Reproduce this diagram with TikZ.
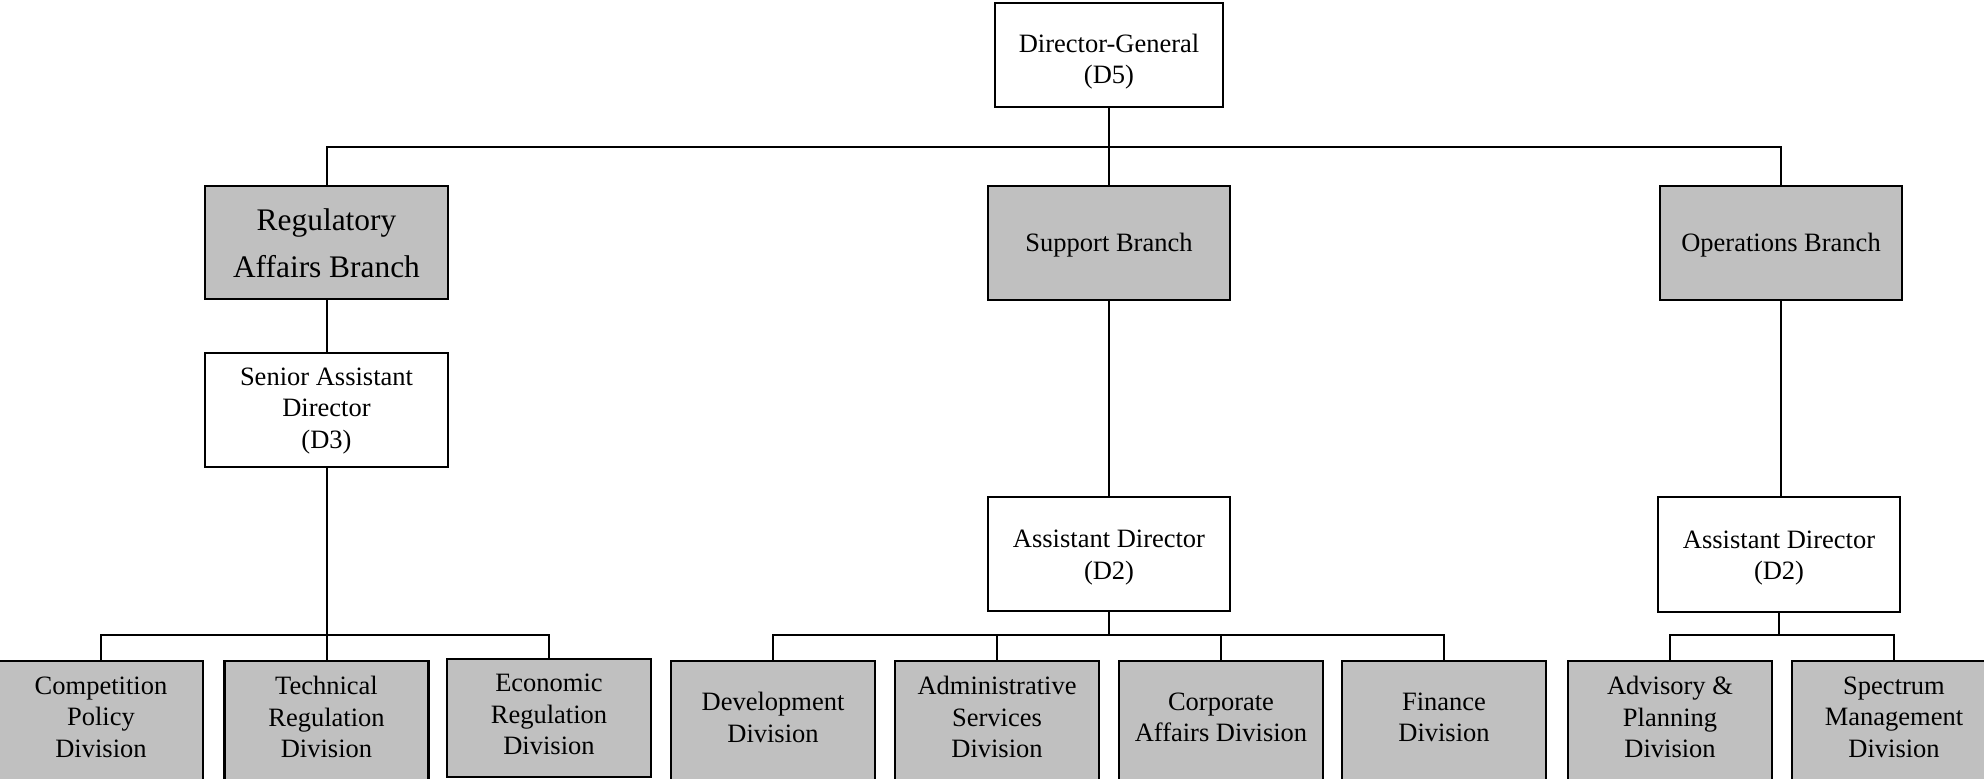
\documentclass[tikz,border=0pt]{standalone}
\usepackage{fontspec}
\setmainfont{Liberation Serif}
\definecolor{boxgray}{RGB}{192,192,192}
\begin{document}
\begin{tikzpicture}[x=0.5pt,y=-0.5pt,
  orgbox/.style={draw=black, line width=1.1pt, rectangle, inner sep=0pt},
  whitebox/.style={orgbox, fill=white},
  graybox/.style={orgbox, fill=boxgray},
  divbox/.style={graybox, minimum width=102pt, minimum height=60pt},
  lbl/.style={inner sep=0pt, align=center, font=\fontsize{13.25}{15.8}\selectfont},
  conn/.style={draw=black, line width=1pt}]
\useasboundingbox (0,0) rectangle (1984,779);
\coordinate (topbus) at (0,147);
\coordinate (lowbus) at (0,635);
% top
\node[whitebox, minimum width=114pt, minimum height=52pt] (dg) at (1109,55) {};
\node[lbl] (dgt) at ([yshift=-3.3pt]dg.center) {Director-General\\(D5)};
% branches
\node[graybox, minimum width=121.5pt, minimum height=56.5pt] (reg) at (326.5,242.5) {};
\node[lbl, font=\fontsize{15.7}{23.4}\selectfont] (regt) at ([yshift=-0.3pt]reg.center) {Regulatory\\Affairs Branch};
\node[graybox, minimum width=121pt, minimum height=57pt] (sup) at (1109,243) {};
\node[lbl] (supt) at ([yshift=-1pt]sup.center) {Support Branch};
\node[graybox, minimum width=121pt, minimum height=57pt] (ops) at (1781,243) {};
\node[lbl] (opst) at ([yshift=-1pt]ops.center) {Operations Branch};
% directors
\node[whitebox, minimum width=121.5pt, minimum height=57pt] (sad) at (326.5,410) {};
\node[lbl] (sadt) at ([yshift=-0.5pt]sad.center) {Senior Assistant\\Director\\(D3)};
\node[whitebox, minimum width=121pt, minimum height=57pt] (ad1) at (1109,554) {};
\node[lbl] (ad1t) at ([yshift=-1.8pt]ad1.center) {Assistant Director\\(D2)};
\node[whitebox, minimum width=121pt, minimum height=57.5pt] (ad2) at (1779,554.5) {};
\node[lbl] (ad2t) at ([yshift=-1.8pt]ad2.center) {Assistant Director\\(D2)};
% divisions
\node[divbox] (comp) at (101,721) {};
\node[lbl] (compt) at ([yshift=2pt]comp.center) {Competition\\Policy\\Division};
\node[divbox] (tech) at (326.5,721) {};
\node[lbl] (techt) at ([yshift=2pt]tech.center) {Technical\\Regulation\\Division};
\node[divbox, minimum height=59pt] (econ) at (549,718) {};
\node[lbl] (econt) at ([yshift=1.8pt]econ.center) {Economic\\Regulation\\Division};
\node[divbox] (dev) at (773,721) {};
\node[lbl] (devt) at ([yshift=1.8pt]dev.center) {Development\\Division};
\node[divbox] (adm) at (997,721) {};
\node[lbl] (admt) at ([yshift=2pt]adm.center) {Administrative\\Services\\Division};
\node[divbox] (corp) at (1221,721) {};
\node[lbl] (corpt) at ([yshift=1.8pt]corp.center) {Corporate\\Affairs Division};
\node[divbox] (fin) at (1444,721) {};
\node[lbl] (fint) at ([yshift=1.8pt]fin.center) {Finance\\Division};
\node[divbox] (adv) at (1670,721) {};
\node[lbl] (advt) at ([yshift=2pt]adv.center) {Advisory \&\\Planning\\Division};
\node[divbox] (spec) at (1894,721) {};
\node[lbl] (spect) at ([yshift=2pt]spec.center) {Spectrum\\Management\\Division};
% connectors top
\draw[conn] (dg.south) -- (sup.north);
\draw[conn] (reg.north) |- (dg.south |- topbus) -| (ops.north);
% regulatory
\draw[conn] (reg.south) -- (sad.north);
\draw[conn] (sad.south) -- (tech.north);
\draw[conn] (comp.north) |- (sad.south |- lowbus) -| (econ.north);
% support
\draw[conn] (sup.south) -- (ad1.north);
\draw[conn] (ad1.south) -- (ad1.south |- lowbus);
\draw[conn] (dev.north) |- (ad1.south |- lowbus) -| (fin.north);
\draw[conn] (adm.north) -- (adm.north |- lowbus);
\draw[conn] (corp.north) -- (corp.north |- lowbus);
% operations
\draw[conn] (ops.south) -- (ops.south |- ad2.north);
\draw[conn] (ad2.south) -- (ad2.south |- lowbus);
\draw[conn] (adv.north) |- (ad2.south |- lowbus) -| (spec.north);
\end{tikzpicture}
\end{document}
